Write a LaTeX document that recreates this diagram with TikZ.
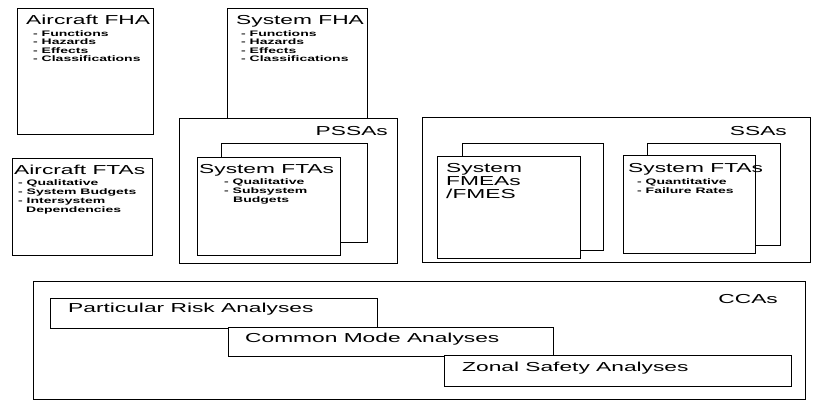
\documentclass[tikz,border=0pt]{standalone}
\usepackage{fontspec}
\setmainfont{Liberation Sans}[FakeStretch=1.75]
\begin{document}
\begin{tikzpicture}[x=1pt,y=-1pt,
  box/.style={draw, line width=1.1pt, fill=white, inner sep=0, anchor=north west},
  ttl/.style={font=\fontsize{13}{15}\selectfont, inner sep=0, anchor=base west},
  itm/.style={font=\fontsize{8}{9}\selectfont\bfseries, inner sep=0, anchor=base west}]
\useasboundingbox[fill=white] (0,0) rectangle (814,402);

% Aircraft FHA
\node[box, minimum width=136, minimum height=126] (afha) at (17,8) {};
\node[ttl] (afhaT) at (26,24) {Aircraft FHA};
\foreach \t [count=\i] in {- Functions,- Hazards,- Effects,- Classifications}
  \node[itm] (afhaL\i) at ({33},{36+8.6*(\i-1)}) {\t};

% System FHA
\node[box, minimum width=140, minimum height=126] (sfha) at (227,8) {};
\node[ttl] (sfhaT) at (236,24) {System FHA};
\foreach \t [count=\i] in {- Functions,- Hazards,- Effects,- Classifications}
  \node[itm] (sfhaL\i) at ({241},{36+8.6*(\i-1)}) {\t};

% Aircraft FTAs
\node[box, minimum width=140, minimum height=97] (afta) at (12,158) {};
\node[ttl] (aftaT) at (14,174) {Aircraft FTAs};
\foreach \t [count=\i] in {- Qualitative,- System Budgets,- Intersystem}
  \node[itm] (aftaL\i) at ({18},{185+9*(\i-1)}) {\t};
\node[itm] (aftaL4) at (26,212) {Dependencies};

% PSSAs
\node[box, minimum width=218, minimum height=145] (pssa) at (179,118) {};
\node[ttl, anchor=base east] (pssaT) at (388,135) {PSSAs};
\node[box, minimum width=146, minimum height=99] (pssaB) at (221,143) {};
\node[box, minimum width=143, minimum height=98] (pssaF) at (197,157) {};
\node[ttl] (pssaFT) at (199,173) {System FTAs};
\node[itm] (pssaL1) at (224,184) {- Qualitative};
\node[itm] (pssaL2) at (224,193) {- Subsystem};
\node[itm] (pssaL3) at (233,202) {Budgets};

% SSAs
\node[box, minimum width=388, minimum height=145] (ssa) at (422,117) {};
\node[ttl, anchor=base east] (ssaT) at (787,135) {SSAs};
\node[box, minimum width=141, minimum height=107] (fmeaB) at (462,143) {};
\node[box, minimum width=143, minimum height=102] (fmeaF) at (437,156) {};
\node[ttl] (fmeaL1) at (446,172) {System};
\node[ttl] (fmeaL2) at (446,185) {FMEAs};
\node[ttl] (fmeaL3) at (446,198) {/FMES};
\node[box, minimum width=133, minimum height=102] (ftaB) at (647,143) {};
\node[box, minimum width=132, minimum height=98] (ftaF) at (623,155) {};
\node[ttl] (ftaT) at (628,172) {System FTAs};
\node[itm] (ftaL1) at (637,184) {- Quantitative};
\node[itm] (ftaL2) at (637,193) {- Failure Rates};

% CCAs
\node[box, minimum width=772, minimum height=118] (cca) at (33,281) {};
\node[ttl, anchor=base east] (ccaT) at (778,303) {CCAs};
\node[box, minimum width=327, minimum height=30] (pra) at (50,298) {};
\node[ttl] (praT) at (68,312) {Particular Risk Analyses};
\node[box, minimum width=325, minimum height=29] (cma) at (228,327) {};
\node[ttl] (cmaT) at (245,342) {Common Mode Analyses};
\node[box, minimum width=347, minimum height=31] (zsa) at (444,355) {};
\node[ttl] (zsaT) at (462,371) {Zonal Safety Analyses};
\end{tikzpicture}
\end{document}
